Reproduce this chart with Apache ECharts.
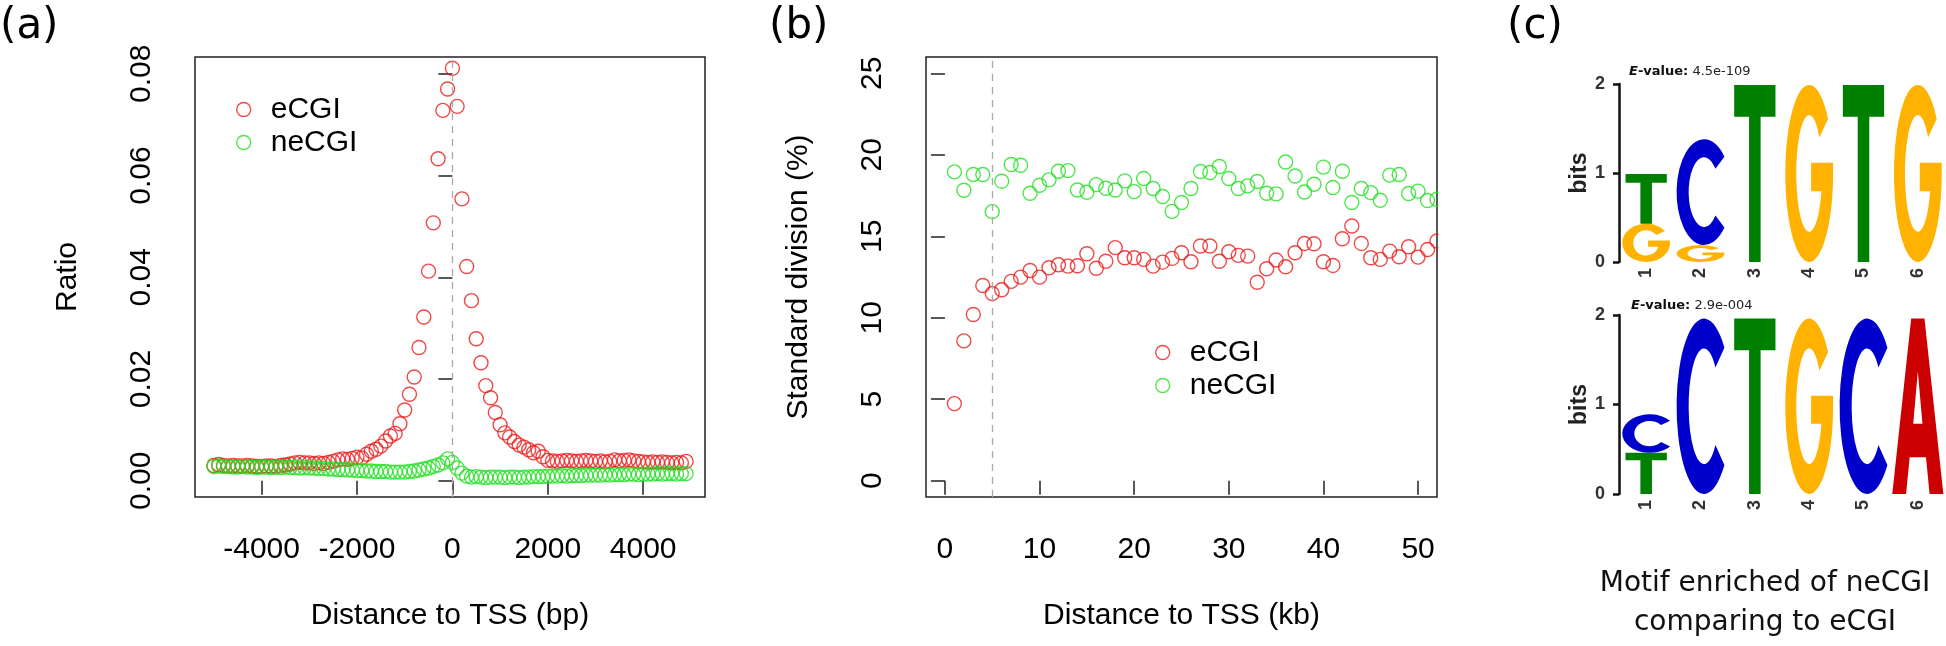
<!DOCTYPE html>
<html><head><meta charset="utf-8">
<script src="https://cdn.jsdelivr.net/npm/echarts@6/dist/echarts.min.js"></script>
<style>html,body{margin:0;padding:0;background:#fff}#c{width:1946px;height:646px}</style>
</head><body><div id="c"></div>
<script>
// ---------- Panel (a): ratio vs distance to TSS (bp) ----------
const aDist = [-5000,-4900,-4800,-4700,-4600,-4500,-4400,-4300,-4200,-4100,
  -4000,-3900,-3800,-3700,-3600,-3500,-3400,-3300,-3200,-3100,
  -3000,-2900,-2800,-2700,-2600,-2500,-2400,-2300,-2200,-2100,
  -2000,-1900,-1800,-1700,-1600,-1500,-1400,-1300,-1200,-1100,
  -1000,-900,-800,-700,-600,-500,-400,-300,-200,-100,
  0,100,200,300,400,500,600,700,800,900,
  1000,1100,1200,1300,1400,1500,1600,1700,1800,1900,
  2000,2100,2200,2300,2400,2500,2600,2700,2800,2900,
  3000,3100,3200,3300,3400,3500,3600,3700,3800,3900,
  4000,4100,4200,4300,4400,4500,4600,4700,4800,4900];
const aECGI = [0.0030,0.0032,0.0030,0.0029,0.0030,0.0029,0.0029,0.0030,0.0029,0.0028,
  0.0028,0.0029,0.0029,0.0028,0.0030,0.0031,0.0033,0.0035,0.0036,0.0035,
  0.0035,0.0034,0.0035,0.0034,0.0036,0.0038,0.0041,0.0043,0.0042,0.0044,
  0.0046,0.0045,0.0052,0.0058,0.0062,0.0068,0.0078,0.0088,0.0093,0.0112,
  0.0139,0.0170,0.0204,0.0262,0.0322,0.0412,0.0507,0.0633,0.0728,0.0770,
  0.0811,0.0736,0.0554,0.0421,0.0354,0.0279,0.0232,0.0187,0.0163,0.0134,
  0.0110,0.0094,0.0086,0.0077,0.0070,0.0066,0.0061,0.0055,0.0058,0.0047,
  0.0040,0.0039,0.0038,0.0039,0.0040,0.0039,0.0038,0.0039,0.0040,0.0039,
  0.0038,0.0039,0.0037,0.0038,0.0041,0.0039,0.0040,0.0041,0.0039,0.0038,
  0.0037,0.0036,0.0037,0.0036,0.0037,0.0036,0.0035,0.0036,0.0035,0.0038];
const aNeCGI = [0.0028,0.0029,0.0028,0.0028,0.0027,0.0027,0.0028,0.0027,0.0027,0.0026,
  0.0027,0.0027,0.0026,0.0027,0.0026,0.0027,0.0026,0.0026,0.0025,0.0026,
  0.0025,0.0025,0.0024,0.0024,0.0023,0.0023,0.0022,0.0022,0.0021,0.0021,
  0.0020,0.0020,0.0019,0.0019,0.0018,0.0018,0.0018,0.0017,0.0017,0.0017,
  0.0017,0.0018,0.0019,0.0021,0.0023,0.0025,0.0028,0.0031,0.0035,0.0043,
  0.0036,0.0025,0.0015,0.0009,0.0007,0.0008,0.0007,0.0006,0.0007,0.0007,
  0.0007,0.0006,0.0007,0.0007,0.0006,0.0007,0.0007,0.0008,0.0008,0.0008,
  0.0009,0.0009,0.0009,0.0010,0.0009,0.0010,0.0010,0.0010,0.0011,0.0011,
  0.0011,0.0011,0.0012,0.0011,0.0012,0.0012,0.0012,0.0013,0.0013,0.0012,
  0.0013,0.0013,0.0013,0.0014,0.0013,0.0014,0.0014,0.0013,0.0014,0.0014];
const aXTicks = [-4000,-2000,0,2000,4000];
const aYTicks = [0,0.02,0.04,0.06,0.08];

// ---------- Panel (b): standard division vs distance to TSS (kb) ----------
const bDist = [1,2,3,4,5,6,7,8,9,10,11,12,13,14,15,16,17,18,19,20,21,22,23,24,25,26,
  27,28,29,30,31,32,33,34,35,36,37,38,39,40,41,42,43,44,45,46,47,48,49,50,51,52];
const bECGI = [4.73,8.58,10.20,11.98,11.49,11.72,12.23,12.49,12.90,12.49,13.07,13.25,13.17,
  13.19,13.93,13.04,13.47,14.30,13.68,13.68,13.58,13.17,13.41,13.64,13.99,13.44,
  14.40,14.40,13.47,14.05,13.83,13.78,12.18,13.01,13.54,13.13,13.99,14.56,14.54,
  13.44,13.21,14.85,15.63,14.56,13.68,13.58,14.09,13.74,14.36,13.72,14.19,14.71];
const bNeCGI = [18.95,17.82,18.79,18.79,16.51,18.38,19.40,19.36,17.64,18.13,18.46,18.99,19.03,
  17.84,17.70,18.17,17.95,17.84,18.40,17.74,18.54,17.93,17.44,16.53,17.07,17.93,
  18.97,18.91,19.28,18.54,17.93,18.09,18.36,17.64,17.60,19.56,18.70,17.72,18.19,
  19.24,17.99,18.99,17.07,17.93,17.68,17.21,18.75,18.79,17.62,17.77,17.19,17.27];
const bXTicks = [0,10,20,30,40,50];
const bYTicks = [0,5,10,15,20,25];

// ---------- Panel (c): sequence logos ----------
const logoPositions = [1,2,3,4,5,6];
const logoBitTicks = [0,1,2];
const motif1Letters = [['G','T'],['G','C'],['T'],['G'],['T'],['G']];
const motif1Bits    = [[0.43,0.56],[0.19,1.19],[1.99],[1.99],[1.99],[1.99]];
const motif2Letters = [['T','C'],['C'],['T'],['G'],['C'],['A']];
const motif2Bits    = [[0.46,0.43],[1.96],[1.96],[1.96],[1.96],[1.96]];
const motifEValues  = ['4.5e-109','2.9e-004'];

// ---------- styles ----------
const RED = '#ee1a1a', GREEN = '#1fe01f';
const RF = 'Liberation Sans', DF = 'DejaVu Sans';
const LETTER_COLOR = {A:'#CC0000', C:'#0000CC', G:'#FFB300', T:'#008000'};
const LETTER_W = {A:0.94, C:0.88, G:0.88, T:0.76};
const GLYPH = {
  T:'M0,0 L100,0 L100,18 L64,18 L64,100 L36,100 L36,18 L0,18 Z',
  C:'M87.2,16.6 A50,50 0 1,0 87.2,83.4 L70.8,72.1 A28,33 0 1,1 70.8,27.9 Z',
  G:'M89.4,19.2 A50,50 0 1,0 99.75,55 L100,44 L54,44 L54,60 L75.7,60 A27,33 0 1,1 71.3,29.7 Z',
  A:'M0,100 L37,0 L63,0 L100,100 L73,100 L66,79 L34,79 L27,100 Z M41,60 L59,60 L50,30 Z'
};

function zip(xs, ys){ return xs.map((x,i)=>[x, ys[i]]); }
function stackLogo(letters, bits){
  const out = [];
  letters.forEach((col,i)=>{
    let base = 0;
    col.forEach((L,j)=>{ out.push({value:[logoPositions[i], base, base+bits[i][j]], letter:L}); base += bits[i][j]; });
  });
  return out;
}
const logo1 = stackLogo(motif1Letters, motif1Bits);
const logo2 = stackLogo(motif2Letters, motif2Bits);

function logoRender(items){
  return function(params, api){
    const L = items[params.dataIndex].letter;
    const w = LETTER_W[L];
    const x = api.value(0), y0 = api.value(1), y1 = api.value(2);
    const p0 = api.coord([x - w/2, y0]);
    const p1 = api.coord([x + w/2, y1]);
    return {type:'path', shape:{pathData:GLYPH[L], x:p0[0], y:p1[1], width:p1[0]-p0[0], height:p0[1]-p1[1], layout:'cover'},
            style:{fill:LETTER_COLOR[L]}};
  };
}

const tickLine = {color:'#222', width:1.5};
const rText = {fontFamily:RF, fontSize:30, color:'#000'};

function rXAxis(grid, min, max, ticks, name){
  return {gridIndex:grid, type:'value', min:min, max:max,
    axisLine:{show:false}, splitLine:{show:false},
    axisTick:{show:true, inside:false, length:14, customValues:ticks, lineStyle:tickLine},
    axisLabel:Object.assign({customValues:ticks, margin:38, formatter:v=>String(v)}, rText),
    name:name, nameLocation:'middle', nameGap:104, nameTextStyle:Object.assign({}, rText)};
}
function rYAxis(grid, min, max, ticks, name, fmt){
  return {gridIndex:grid, type:'value', min:min, max:max,
    axisLine:{show:false}, splitLine:{show:false},
    axisTick:{show:true, inside:false, length:14, customValues:ticks, lineStyle:tickLine},
    axisLabel:Object.assign({customValues:ticks, rotate:90, margin:38, formatter:fmt}, rText),
    name:name, nameLocation:'middle', nameRotate:90, nameGap:112, nameTextStyle:Object.assign({}, rText)};
}
function logoX(grid){
  return {gridIndex:grid, type:'value', min:0.5, max:6.5,
    axisLine:{show:false}, axisTick:{show:false}, splitLine:{show:false},
    axisLabel:{customValues:logoPositions, rotate:90, margin:6, fontFamily:RF, fontWeight:'bold', fontSize:18, color:'#333'}};
}
function logoY(grid){
  return {gridIndex:grid, type:'value', min:0, max:2, interval:1,
    axisLine:{show:true, lineStyle:{color:'#111', width:2.5}},
    axisTick:{show:true, length:6, lineStyle:{color:'#111', width:2.5}},
    axisLabel:{margin:14, fontFamily:RF, fontWeight:'bold', fontSize:18, color:'#333', customValues:logoBitTicks},
    splitLine:{show:false},
    name:'bits', nameLocation:'middle', nameRotate:90, nameGap:26,
    nameTextStyle:{fontFamily:RF, fontWeight:'bold', fontSize:23, color:'#222'}};
}
function scat(name, xi, data, color, extra){
  return Object.assign({type:'scatter', name:name, xAxisIndex:xi, yAxisIndex:xi, data:data,
    symbol:'circle', symbolSize:14, silent:true,
    itemStyle:{color:'rgba(0,0,0,0)', borderColor:color, borderWidth:1.4}}, extra||{});
}
function vline(v){
  return {markLine:{symbol:'none', silent:true, label:{show:false},
    lineStyle:{type:[7,6], color:'#aaaaaa', width:1.3}, data:[{xAxis:v}]}};
}
function legendAt(left, top){
  return {left:left, top:top, orient:'vertical', itemWidth:44, itemHeight:14, itemGap:0,
    textStyle:{fontFamily:RF, fontSize:30, lineHeight:33, color:'#000'},
    data:[{name:'eCGI', icon:'circle', itemStyle:{color:'rgba(0,0,0,0)', borderColor:RED, borderWidth:1.4}},
          {name:'neCGI', icon:'circle', itemStyle:{color:'rgba(0,0,0,0)', borderColor:GREEN, borderWidth:1.4}}]};
}
function eText(x, y, v){
  return {type:'text', x:x, y:y, z:10, style:{text:'{e|E}{b|-value:} ' + v, fill:'#222',
    font:'13px "DejaVu Sans"', textAlign:'left', textVerticalAlign:'middle',
    rich:{e:{fontFamily:DF, fontSize:13, fontWeight:'bold', fontStyle:'italic', fill:'#111'},
          b:{fontFamily:DF, fontSize:13, fontWeight:'bold', fill:'#111'}}}};
}
function panelLabel(x, t){
  return {type:'text', x:x, y:27, style:{text:t, font:'42px "DejaVu Sans"', fill:'#000', textVerticalAlign:'middle'}};
}
const G0 = {outerBoundsMode:'none', containLabel:false};
const option = {
  animation:false,
  backgroundColor:'#fff',
  grid:[
    Object.assign({left:195, top:57, width:510, height:440, show:true, borderColor:'#222', borderWidth:1.5, backgroundColor:'rgba(0,0,0,0)'}, G0),
    Object.assign({left:926, top:57, width:511, height:440, show:true, borderColor:'#222', borderWidth:1.5, backgroundColor:'rgba(0,0,0,0)'}, G0),
    Object.assign({left:1619, top:84, width:326, height:178}, G0),
    Object.assign({left:1619, top:315, width:326, height:179}, G0)
  ],
  xAxis:[
    rXAxis(0, -5396, 5296, aXTicks, 'Distance to TSS (bp)'),
    rXAxis(1, -2, 52, bXTicks, 'Distance to TSS (kb)'),
    logoX(2), logoX(3)
  ],
  yAxis:[
    rYAxis(0, -0.0032, 0.0833, aYTicks, 'Ratio', v=>v.toFixed(2)),
    rYAxis(1, -1, 26, bYTicks, 'Standard division (%)', v=>String(v)),
    logoY(2), logoY(3)
  ],
  legend:[legendAt(231, 88), legendAt(1150, 331)],
  series:[
    scat('eCGI', 0, zip(aDist, aECGI), RED, vline(0)),
    scat('neCGI', 0, zip(aDist, aNeCGI), GREEN),
    scat('eCGI', 1, zip(bDist, bECGI), RED, vline(5)),
    scat('neCGI', 1, zip(bDist, bNeCGI), GREEN),
    {type:'custom', xAxisIndex:2, yAxisIndex:2, data:logo1, renderItem:logoRender(logo1), silent:true},
    {type:'custom', xAxisIndex:3, yAxisIndex:3, data:logo2, renderItem:logoRender(logo2), silent:true}
  ],
  graphic:[
    {type:'rect', shape:{x:1438.5, y:40, width:60, height:470}, style:{fill:'#fff'}, z:100},
    panelLabel(0, '(a)'), panelLabel(769, '(b)'), panelLabel(1507, '(c)'),
    eText(1629, 72, motifEValues[0]),
    eText(1631, 306, motifEValues[1]),
    {type:'text', x:1765, y:603, style:{text:'Motif enriched of neCGI\ncomparing to eCGI',
      font:'28px "DejaVu Sans"', lineHeight:39, fill:'#111', textAlign:'center', textVerticalAlign:'middle'}}
  ]
};
const chart = echarts.init(document.getElementById('c'), null, {renderer:'canvas', width:1946, height:646});
chart.setOption(option);
</script></body></html>
